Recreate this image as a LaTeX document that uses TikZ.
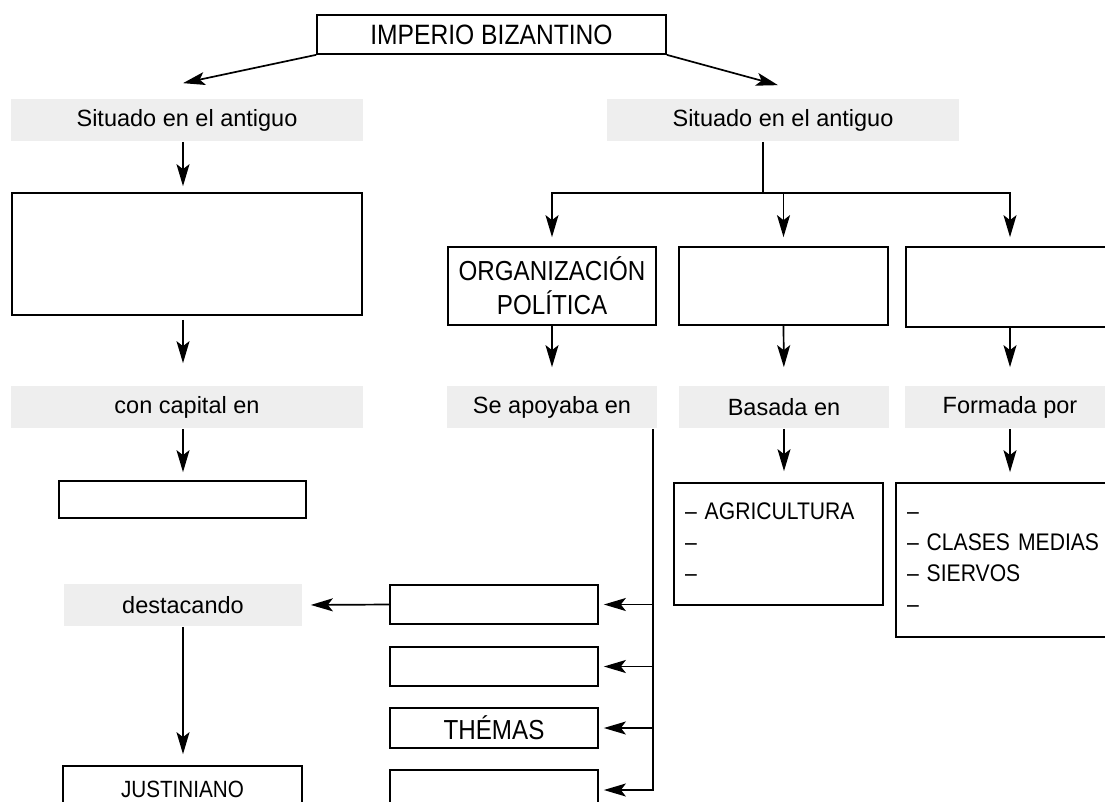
\documentclass[tikz,border=0pt]{standalone}
\usepackage{fontspec}
\setmainfont{Liberation Sans}
\newfontfamily\condfont[FakeStretch=0.88]{Liberation Sans}
\usetikzlibrary{arrows.meta}
\definecolor{labelgray}{RGB}{238,238,238}
\begin{document}
\begin{tikzpicture}[x=1pt,y=-1pt,line width=1.7pt,
  arr/.style={-{Stealth[length=22pt,width=13pt,inset=5pt]}},
  gbox/.style={fill=labelgray,inner sep=0pt,minimum height=42pt,font=\fontsize{23.5}{28}\selectfont},
  wbox/.style={draw,inner sep=0pt,align=center,font=\condfont\fontsize{27.5}{34}\selectfont},
  listbox/.style={draw,inner xsep=11pt,inner ysep=0pt,align=left,font=\condfont\fontsize{24}{31}\selectfont},
]
\useasboundingbox (0,0) rectangle (1105,801);
\clip (0,0) rectangle (1105,801);
\fill[white] (0,0) rectangle (1105,801);

% top
\node[wbox,minimum width=349pt,minimum height=39pt,font=\condfont\fontsize{28}{34}\selectfont] (title) at (491.5,34.5) {IMPERIO BIZANTINO};
\node[gbox,minimum width=352pt] (lsit) at (187,120) {Situado en el antiguo};
\node[gbox,minimum width=352pt] (rsit) at (783,120) {Situado en el antiguo};

% left column
\node[wbox,minimum width=350pt,minimum height=122pt] (lbox) at (187,254) {};
\node[gbox,minimum width=352pt] (capg) at (187,407) {con capital en};
\node[wbox,minimum width=247pt,minimum height=37pt] (capbox) at (182.5,499.5) {};
\node[gbox,minimum width=238pt] (dest) at (183,605) {destacando};
\node[wbox,minimum width=239pt,minimum height=46pt,font=\condfont\fontsize{23.5}{28}\selectfont] (just) at (182.5,789) {JUSTINIANO};

% right columns
\node[wbox,minimum width=208pt,minimum height=78pt] (org) at (552,286) {ORGANIZACIÓN\\POLÍTICA};
\node[wbox,minimum width=209pt,minimum height=78pt] (box2) at (783.5,286) {};
\node[wbox,minimum width=208pt,minimum height=80pt] (box3) at (1010,287) {};
\node[gbox,minimum width=210pt] (segray) at (552,407) {Se apoyaba en};
\node[gbox,minimum width=210pt] (basg) at (784,407) {Basada en};
\node[gbox,minimum width=210pt] (formg) at (1010,407) {Formada por};

\node[listbox,text width=187pt,minimum height=122pt] (agri) at (778.5,544)
  {\strut– AGRICULTURA\\\strut–\\\strut–};
\node[listbox,text width=206pt,minimum height=154pt] (formbox) at (1010,560)
  {\strut–\\\strut– CLASES MEDIAS\\\strut– SIERVOS\\\strut–};

\node[wbox,minimum width=208pt,minimum height=39pt] (b1) at (494,604.5) {};
\node[wbox,minimum width=208pt,minimum height=39pt] (b2) at (494,666.5) {};
\node[wbox,minimum width=208pt,minimum height=40pt,font=\condfont\fontsize{27.5}{34}\selectfont] (b3) at (494,728) {THÉMAS};
\node[wbox,minimum width=208pt,minimum height=40pt] (b4) at (494,790) {};

% connectors
\draw[arr] (title.south west) -- ([xshift=-4pt,yshift=15pt]lsit.north);
\draw[arr] (title.south east) -- ([xshift=-5pt,yshift=13pt]rsit.north);

\draw[arr,shorten >=6pt] ([xshift=-4pt]lsit.south) -- ([xshift=-4pt]lbox.north);
\draw[arr,shorten >=22pt,shorten <=4pt] ([xshift=-4pt]lbox.south) -- ([xshift=-4pt]capg.north);
\draw[arr,shorten >=8pt] ([xshift=-4pt]capg.south) -- ([xshift=-4pt]capg.south |- capbox.north);
\draw[arr,shorten >=8pt] (b1.west) -- (dest.east);
\draw[arr,shorten >=11pt] (dest.south) -- (dest.south |- just.north);

\coordinate (hub) at (763,193);
\draw (rsit.south -| hub) -- (hub);
\draw[arr,shorten >=9pt] (hub) -| (org.north);
\draw[arr,shorten >=9pt] (hub) -| (box2.north);
\draw[arr,shorten >=9pt] (hub) -| (box3.north);

\draw[arr,shorten >=18pt] (org.south) -- (segray.north);
\draw[arr,shorten >=18pt] (box2.south) -- (basg.north);
\draw[arr,shorten >=18pt] (box3.south) -- (formg.north);
\draw[arr,shorten >=11pt] (basg.south) -- (basg.south |- agri.north);
\draw[arr,shorten >=10pt] (formg.south) -- (formbox.north);

\coordinate (spine) at ([xshift=-5pt]segray.south east);
\draw[arr,shorten >=5pt] (spine) |- (b4.east);
\draw[arr,shorten >=5pt] (spine |- b1.east) -- (b1.east);
\draw[arr,shorten >=5pt] (spine |- b2.east) -- (b2.east);
\draw[arr,shorten >=5pt] (spine |- b3.east) -- (b3.east);
\end{tikzpicture}
\end{document}
